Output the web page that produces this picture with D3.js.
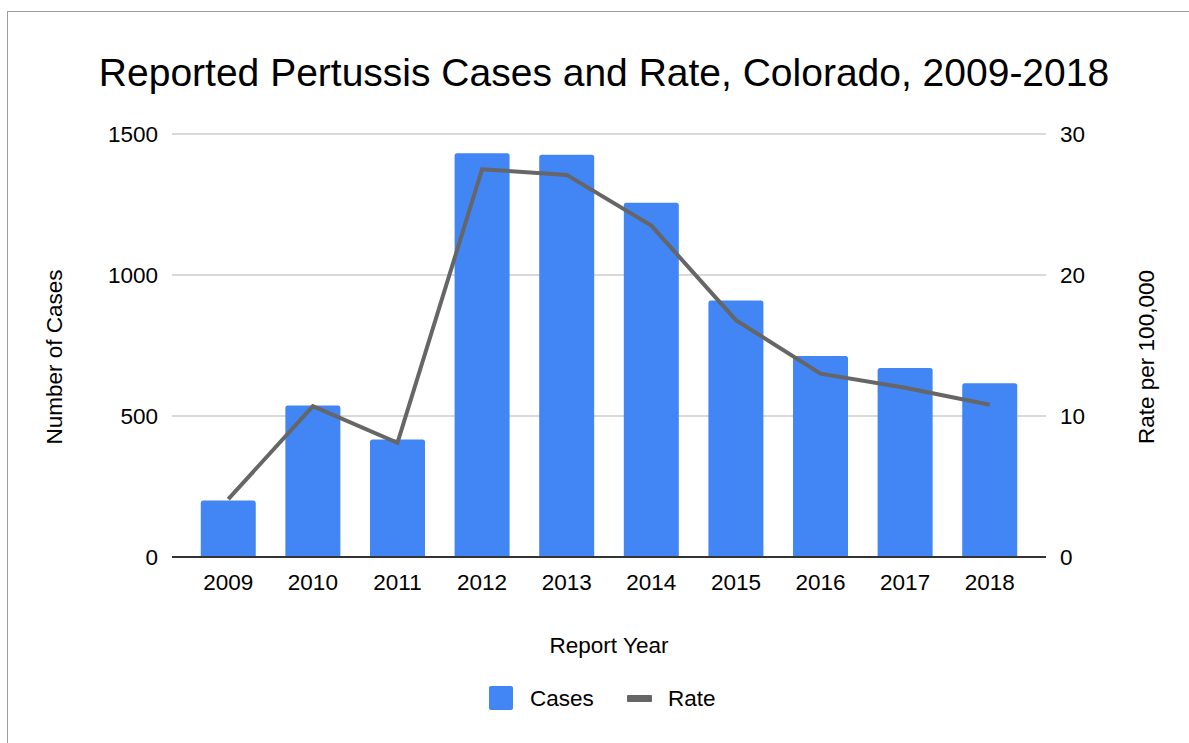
<!DOCTYPE html>
<html>
<head>
<meta charset="utf-8">
<script src="https://cdn.jsdelivr.net/npm/d3@7"></script>
<style>
  body { margin: 0; background: #fff; }
  svg text { font-family: "Liberation Sans", Arial, sans-serif; fill: #000; }
</style>
</head>
<body>
<svg id="chart" width="1189" height="743"></svg>
<script>
const years = ['2009', '2010', '2011', '2012', '2013', '2014', '2015', '2016', '2017', '2018']
const cases = [200, 537, 417, 1432, 1426, 1256, 910, 713, 670, 616]
const rates = [4.1, 10.7, 8.1, 27.5, 27.1, 23.5, 16.8, 13.0, 12.0, 10.8]
const casesTicks = [0, 500, 1000, 1500]
const rateTicks = [0, 10, 20, 30]

const svg = d3.select('#chart')
const plotLeft = 172
const plotRight = 1046
const plotTop = 134
const plotBottom = 557
const fontFamily = '"Liberation Sans", Arial, sans-serif'
const labelSize = 22.5

// frame of the chart card
svg.append('rect')
    .attr('x', 7.5).attr('y', 11.5)
    .attr('width', 1300).attr('height', 900)
    .attr('fill', 'none')
    .attr('stroke', '#9e9e9e')
    .attr('stroke-width', 1)

const x = d3.scaleBand()
    .domain(years)
    .range([plotLeft, plotRight])
    .paddingInner(0.35)
    .paddingOuter(0.34)
const yCases = d3.scaleLinear().domain([0, 1500]).range([plotBottom, plotTop])
const yRate = d3.scaleLinear().domain([0, 30]).range([plotBottom, plotTop])

svg.append('text')
    .attr('x', 604).attr('y', 86)
    .attr('text-anchor', 'middle')
    .attr('font-size', 39)
    .text('Reported Pertussis Cases and Rate, Colorado, 2009-2018')

// grid
svg.append('g')
    .selectAll('line')
    .data(casesTicks.filter(d => d > 0))
    .enter()
    .append('line')
    .attr('x1', plotLeft).attr('x2', plotRight)
    .attr('y1', d => yCases(d)).attr('y2', d => yCases(d))
    .attr('stroke', '#cccccc')
    .attr('stroke-width', 1.5)

// left axis
const leftAxis = svg.append('g')
    .attr('transform', `translate(${plotLeft},0)`)
    .call(d3.axisLeft(yCases).tickValues(casesTicks).tickFormat(d3.format('d')).tickSize(0).tickPadding(14))
leftAxis.select('.domain').remove()
leftAxis.selectAll('text')
    .attr('font-size', labelSize)
    .attr('fill', '#000')
    .attr('font-family', fontFamily)

// right axis
const rightAxis = svg.append('g')
    .attr('transform', `translate(${plotRight},0)`)
    .call(d3.axisRight(yRate).tickValues(rateTicks).tickFormat(d3.format('d')).tickSize(0).tickPadding(14))
rightAxis.select('.domain').remove()
rightAxis.selectAll('text')
    .attr('font-size', labelSize)
    .attr('fill', '#000')
    .attr('font-family', fontFamily)

// bars, rounded top corners
const r = 2.5
svg.append('g')
    .selectAll('path.bar')
    .data(years)
    .enter()
    .append('path')
    .attr('class', 'bar')
    .attr('fill', '#4285f4')
    .attr('d', (d, i) => {
      const x0 = x(d)
      const w = x.bandwidth()
      const y0 = yCases(cases[i])
      return `M${x0},${plotBottom}V${y0 + r}Q${x0},${y0} ${x0 + r},${y0}` +
        `H${x0 + w - r}Q${x0 + w},${y0} ${x0 + w},${y0 + r}V${plotBottom}Z`
    })

// baseline
svg.append('line')
    .attr('x1', plotLeft).attr('x2', plotRight)
    .attr('y1', plotBottom).attr('y2', plotBottom)
    .attr('stroke', '#333333')
    .attr('stroke-width', 2)

// x axis labels
const bottomAxis = svg.append('g')
    .attr('transform', `translate(0,${plotBottom})`)
    .call(d3.axisBottom(x).tickSize(0).tickPadding(17))
bottomAxis.select('.domain').remove()
bottomAxis.selectAll('text')
    .attr('font-size', labelSize)
    .attr('fill', '#000')
    .attr('font-family', fontFamily)

// rate line
const line = d3.line()
    .x((d, i) => x(years[i]) + x.bandwidth() / 2)
    .y(d => yRate(d))
svg.append('path')
    .datum(rates)
    .attr('fill', 'none')
    .attr('stroke', '#666666')
    .attr('stroke-width', 4)
    .attr('stroke-linejoin', 'miter')
    .attr('d', line)

// axis titles
svg.append('text')
    .attr('transform', 'translate(62,357) rotate(-90)')
    .attr('text-anchor', 'middle')
    .attr('font-size', labelSize)
    .text('Number of Cases')
svg.append('text')
    .attr('transform', 'translate(1154,357) rotate(-90)')
    .attr('text-anchor', 'middle')
    .attr('font-size', labelSize)
    .text('Rate per 100,000')
svg.append('text')
    .attr('x', 609).attr('y', 653)
    .attr('text-anchor', 'middle')
    .attr('font-size', labelSize)
    .text('Report Year')

// legend
const legend = svg.append('g')
legend.append('rect')
    .attr('x', 489).attr('y', 686)
    .attr('width', 24).attr('height', 24)
    .attr('rx', 2)
    .attr('fill', '#4285f4')
legend.append('text')
    .attr('x', 530).attr('y', 706)
    .attr('font-size', labelSize)
    .text('Cases')
legend.append('rect')
    .attr('x', 627).attr('y', 695)
    .attr('width', 25).attr('height', 7)
    .attr('rx', 1)
    .attr('fill', '#666666')
legend.append('text')
    .attr('x', 668).attr('y', 706)
    .attr('font-size', labelSize)
    .text('Rate')
</script>
</body>
</html>
